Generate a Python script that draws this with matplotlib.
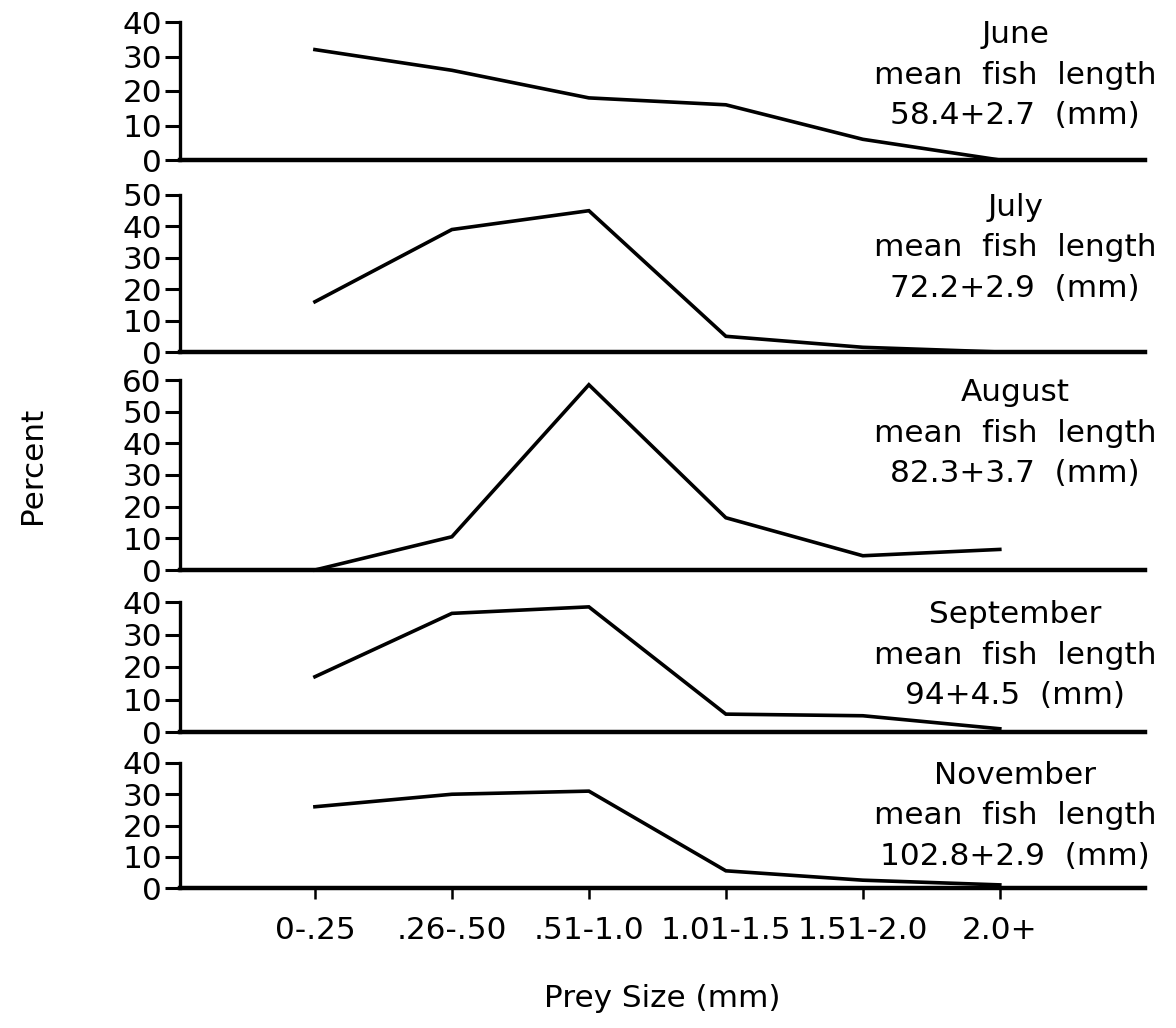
import numpy as np
import matplotlib
matplotlib.use("Agg")
import matplotlib.pyplot as plt
from matplotlib import font_manager

# prey size classes (mm)
sizes = ['0-.25', '.26-.50', '.51-1.0', '1.01-1.5', '1.51-2.0', '2.0+']

# percent of diet per size class
june = [32, 26, 18, 16, 6, 0]
july = [16, 39, 45, 5, 1.5, 0]
august = [0, 10.5, 58.5, 16.5, 4.5, 6.5]
september = [17, 36.5, 38.5, 5.5, 5, 1]
november = [26, 30, 31, 5.5, 2.5, 1]

months = ['June', 'July', 'August', 'September', 'November']
fish_len = ['58.4+2.7', '72.2+2.9', '82.3+3.7', '94+4.5', '102.8+2.9']
y_max = [40, 50, 60, 40, 40]
series = [june, july, august, september, november]

# the original uses a narrow plotter font; use a narrow face if we have one
names = set(f.name for f in font_manager.fontManager.ttflist)
if 'Liberation Sans Narrow' in names:
    plt.rcParams['font.family'] = ['Liberation Sans Narrow', 'DejaVu Sans']
    k = 1.0
else:
    plt.rcParams['font.family'] = ['DejaVu Sans']
    k = 0.8

W, H = 1176, 1028
fig = plt.figure(figsize=(W / 100, H / 100), dpi=100)

# panel extents in pixels (top of axis, zero line)
panel_px = [(22, 160), (195, 352), (380, 570), (602, 732), (763, 888)]
left_px, right_px = 180, 1145
x = np.arange(len(sizes))

for i, (top, bot) in enumerate(panel_px):
    ax = fig.add_axes([left_px / W, 1 - bot / H,
                       (right_px - left_px) / W, (bot - top) / H])
    ax.plot(x, series[i], color='black', lw=2.6, clip_on=False,
            solid_joinstyle='miter')
    ax.set_xlim(-0.985, 6.06)
    ax.set_ylim(0, y_max[i])
    ax.set_yticks(np.arange(0, y_max[i] + 1, 10))
    ax.tick_params(axis='y', direction='out', length=11, width=2.2,
                   labelsize=28 * k, pad=2)
    for s in ['top', 'right']:
        ax.spines[s].set_visible(False)
    ax.spines['left'].set_linewidth(2.4)
    ax.spines['bottom'].set_linewidth(3.2)
    ax.patch.set_visible(False)
    if i == len(panel_px) - 1:
        ax.set_xticks(x)
        ax.set_xticklabels(sizes)
        ax.tick_params(axis='x', direction='out', length=8, width=1.8,
                       labelsize=28 * k, pad=12)
        ax.set_xlabel('Prey Size (mm)', fontsize=28 * k, labelpad=28)
    else:
        ax.set_xticks([])

    fig.text(1015 / W, 1 - (top - 2) / H,
             months[i] + '\nmean  fish  length\n' + fish_len[i] + '  (mm)',
             ha='center', va='top', fontsize=28 * k, linespacing=1.5)

fig.text(32 / W, 1 - 465 / H, 'Percent', rotation=90, ha='center',
         va='center', fontsize=28 * k)

fig.savefig('out.png', dpi=100)
